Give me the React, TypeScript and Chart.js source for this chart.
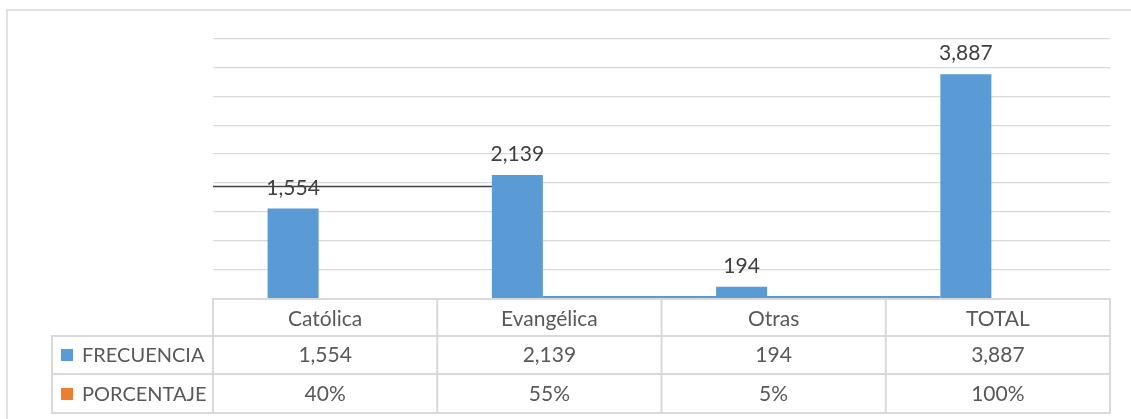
import React, { useEffect, useRef } from "react";
import { Chart, registerables } from "chart.js";

Chart.register(...registerables);

// ---- data ----
const categories = ["Católica", "Evangélica", "Otras", "TOTAL"];
const seriesNames = ["FRECUENCIA", "PORCENTAJE"];
const frecuencia = [1554, 2139, 194, 3887];
const porcentaje = [0.4, 0.55, 0.05, 1.0];
const yMax = 4500;
const yStep = 500;

// ---- styles ----
const BLUE = "#5B9BD5";
const ORANGE = "#ED7D31";
const GRID = "#D9D9D9";
const TEXT = "#595959";
const LABEL = "#404040";
const FONT = "21px Lato";
const FONT_ROW = "20px Lato";

const fmtNum = (v: number) => v.toLocaleString("en-US");
const fmtPct = (v: number) => Math.round(v * 100) + "%";

const extrasPlugin = {
  id: "extras",
  afterDatasetsDraw(chart: any) {
    const ctx = chart.ctx;
    const meta = chart.getDatasetMeta(0);
    ctx.save();
    ctx.font = FONT;
    ctx.fillStyle = LABEL;
    ctx.textAlign = "center";
    ctx.textBaseline = "alphabetic";
    meta.data.forEach((bar: any, i: number) => {
      ctx.fillText(fmtNum(frecuencia[i]), bar.x, bar.y - 14);
    });
    // stray dark line through first label, up to the second bar
    const b0 = meta.data[0];
    const b1 = meta.data[1];
    const yLine = Math.round(b0.y - 22.5) + 0.5;
    ctx.strokeStyle = "#404040";
    ctx.lineWidth = 1.5;
    ctx.beginPath();
    ctx.moveTo(chart.chartArea.left, yLine);
    ctx.lineTo(b1.x - b1.width / 2, yLine);
    ctx.stroke();
    ctx.restore();
  },
  afterDraw(chart: any) {
    const ctx = chart.ctx;
    const { left, right, bottom } = chart.chartArea;
    const n = categories.length;
    const colW = (right - left) / n;
    const labelLeft = 52;
    const rowH = [37, 38, 39];
    const y0 = bottom + 1;
    const y1 = y0 + rowH[0];
    const y2 = y1 + rowH[1];
    const y3 = y2 + rowH[2];
    ctx.save();
    // outer frame
    ctx.strokeStyle = GRID;
    ctx.lineWidth = 1.5;
    ctx.strokeRect(7, 10, 1300, 600);

    // table lines
    ctx.lineWidth = 2;
    const line = (xa: number, ya: number, xb: number, yb: number) => {
      ctx.beginPath();
      ctx.moveTo(xa, ya);
      ctx.lineTo(xb, yb);
      ctx.stroke();
    };
    line(left, y0, right, y0);
    line(labelLeft - 1, y1, right + 1, y1);
    line(labelLeft - 1, y2, right + 1, y2);
    line(labelLeft - 1, y3, right + 1, y3);
    for (let i = 0; i <= n; i++) {
      const x = left + i * colW;
      line(x, y0 - 1, x, y3 + 1);
    }
    line(labelLeft, y1 - 1, labelLeft, y3 + 1);

    // table text
    ctx.font = FONT;
    ctx.fillStyle = TEXT;
    ctx.textAlign = "center";
    ctx.textBaseline = "alphabetic";
    const mid0 = (y0 + y1) / 2;
    const mid1 = (y1 + y2) / 2;
    const mid2 = (y2 + y3) / 2;
    categories.forEach((c, i) => {
      const cx = left + (i + 0.5) * colW;
      ctx.fillText(c, cx, mid0 + 8);
      ctx.fillText(fmtNum(frecuencia[i]), cx, mid1 + 7);
      ctx.fillText(fmtPct(porcentaje[i]), cx, mid2 + 7);
    });
    // row headers with legend keys
    ctx.textAlign = "left";
    ctx.font = FONT_ROW;
    const keys = [BLUE, ORANGE];
    const mids = [mid1, mid2];
    seriesNames.forEach((s, i) => {
      ctx.fillStyle = keys[i];
      ctx.fillRect(61, Math.round(mids[i] - 6), 12, 12);
      ctx.fillStyle = TEXT;
      ctx.fillText(s, 82, mids[i] + 7);
    });

    // stray blue line along the baseline between bars 2 and 4
    const meta = chart.getDatasetMeta(0);
    const b1 = meta.data[1];
    const b3 = meta.data[3];
    ctx.strokeStyle = BLUE;
    ctx.lineWidth = 2;
    line(b1.x + b1.width / 2, bottom - 1, b3.x - b3.width / 2, bottom - 1);
    ctx.restore();
  },
};

export default function App() {
  const ref = useRef<HTMLCanvasElement | null>(null);

  useEffect(() => {
    document.body.style.margin = "0";
    const canvas = ref.current;
    if (!canvas) return;
    const chart = new Chart(canvas, {
      type: "bar",
      data: {
        labels: categories,
        datasets: [
          {
            label: seriesNames[0],
            data: frecuencia,
            backgroundColor: BLUE,
            categoryPercentage: 0.571,
            barPercentage: 0.797,
            inflateAmount: 0,
          },
          {
            label: seriesNames[1],
            data: porcentaje,
            backgroundColor: ORANGE,
            categoryPercentage: 0.571,
            barPercentage: 0.797,
            inflateAmount: 0,
          },
        ],
      },
      options: {
        responsive: false,
        animation: false,
        devicePixelRatio: 1,
        layout: { padding: { left: 213, right: 21, top: 39, bottom: 121 } },
        plugins: {
          legend: { display: false },
          tooltip: { enabled: false },
          title: { display: false },
        },
        scales: {
          x: { display: false },
          y: {
            display: true,
            min: 0,
            max: yMax,
            ticks: { display: false, stepSize: yStep },
            border: { display: false },
            grid: {
              color: GRID,
              lineWidth: (c: any) => (c.tick && c.tick.value === 0 ? 0 : 1.3),
              drawTicks: false,
            },
            afterFit: (s: any) => {
              s.width = 0;
            },
          },
        },
      },
      plugins: [extrasPlugin],
    });
    return () => chart.destroy();
  }, []);

  return (
    <div style={{ width: 1131, height: 419, background: "#fff" }}>
      <canvas ref={ref} width={1131} height={419} style={{ display: "block" }} />
    </div>
  );
}
